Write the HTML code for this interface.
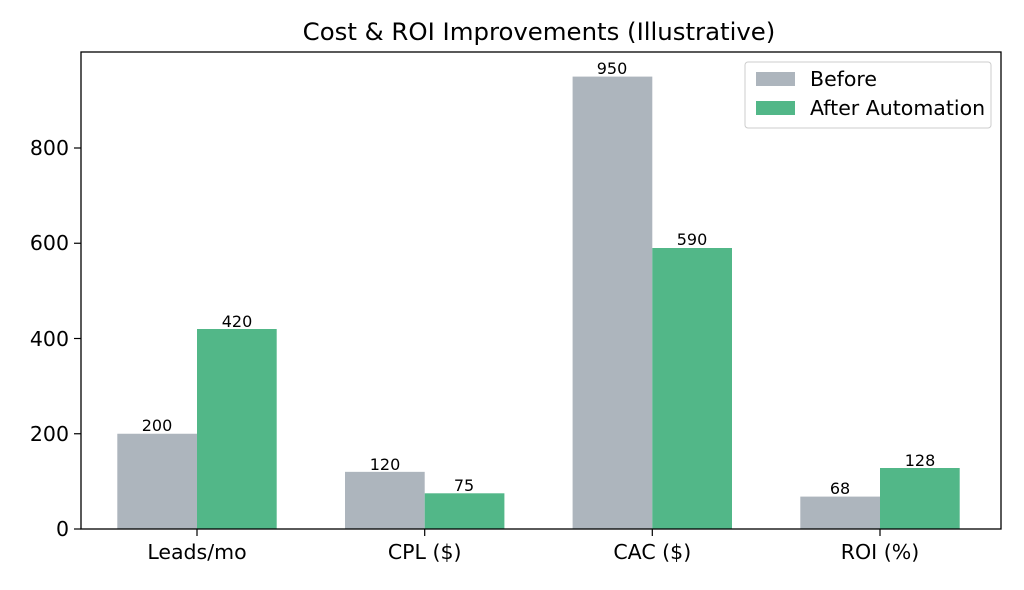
<!DOCTYPE html>
<html><head><meta charset="utf-8"><style>
body{margin:0;background:#fff;}
svg text{font-family:"DejaVu Sans","Liberation Sans",sans-serif;}
</style></head><body>
<svg width="1024" height="585" viewBox="0 0 1024 585" xmlns="http://www.w3.org/2000/svg">
<rect width="1024" height="585" fill="#fff"/>
<text x="539" y="40" font-size="24.4" text-anchor="middle" fill="#000">Cost &amp; ROI Improvements (Illustrative)</text>
<g>
<rect x="117.3" y="433.75" width="79.7" height="95.25" fill="#adb5bd"/>
<rect x="197" y="329" width="79.7" height="200" fill="#52b788"/>
<rect x="345" y="471.85" width="79.7" height="57.15" fill="#adb5bd"/>
<rect x="424.7" y="493.3" width="79.7" height="35.7" fill="#52b788"/>
<rect x="572.6" y="76.6" width="79.7" height="452.4" fill="#adb5bd"/>
<rect x="652.3" y="248" width="79.7" height="281" fill="#52b788"/>
<rect x="800.3" y="496.6" width="79.7" height="32.4" fill="#adb5bd"/>
<rect x="880" y="468" width="79.7" height="61" fill="#52b788"/>
</g>
<g font-size="16" text-anchor="middle" fill="#000">
<text x="157" y="431">200</text><text x="237" y="327">420</text>
<text x="385" y="470">120</text><text x="464" y="491">75</text>
<text x="612" y="74">950</text><text x="692" y="245">590</text>
<text x="840" y="494">68</text><text x="920" y="466">128</text>
</g>
<rect x="81" y="52" width="920" height="477" fill="none" stroke="#000" stroke-width="1.3"/>
<g stroke="#000" stroke-width="1.2">
<line x1="74" y1="529" x2="81" y2="529"/><line x1="74" y1="433.75" x2="81" y2="433.75"/>
<line x1="74" y1="338.5" x2="81" y2="338.5"/><line x1="74" y1="243.25" x2="81" y2="243.25"/>
<line x1="74" y1="148" x2="81" y2="148"/>
<line x1="197" y1="529" x2="197" y2="536"/><line x1="424.7" y1="529" x2="424.7" y2="536"/>
<line x1="652.3" y1="529" x2="652.3" y2="536"/><line x1="880" y1="529" x2="880" y2="536"/>
</g>
<g font-size="20.5" text-anchor="end" fill="#000">
<text x="69" y="536">0</text><text x="69" y="441">200</text><text x="69" y="346">400</text>
<text x="69" y="250">600</text><text x="69" y="155">800</text>
</g>
<g font-size="20.5" text-anchor="middle" fill="#000">
<text x="197" y="559">Leads/mo</text><text x="424.7" y="559">CPL ($)</text>
<text x="652.3" y="559">CAC ($)</text><text x="880" y="559">ROI (%)</text>
</g>
<rect x="745" y="62" width="246" height="66" rx="3" fill="#fff" fill-opacity="0.8" stroke="#ccc"/>
<rect x="756" y="72" width="39" height="14" fill="#adb5bd"/>
<rect x="756" y="101" width="39" height="14" fill="#52b788"/>
<g font-size="20.5" fill="#000">
<text x="810" y="86">Before</text><text x="810" y="115">After Automation</text>
</g>
</svg>
</body></html>
